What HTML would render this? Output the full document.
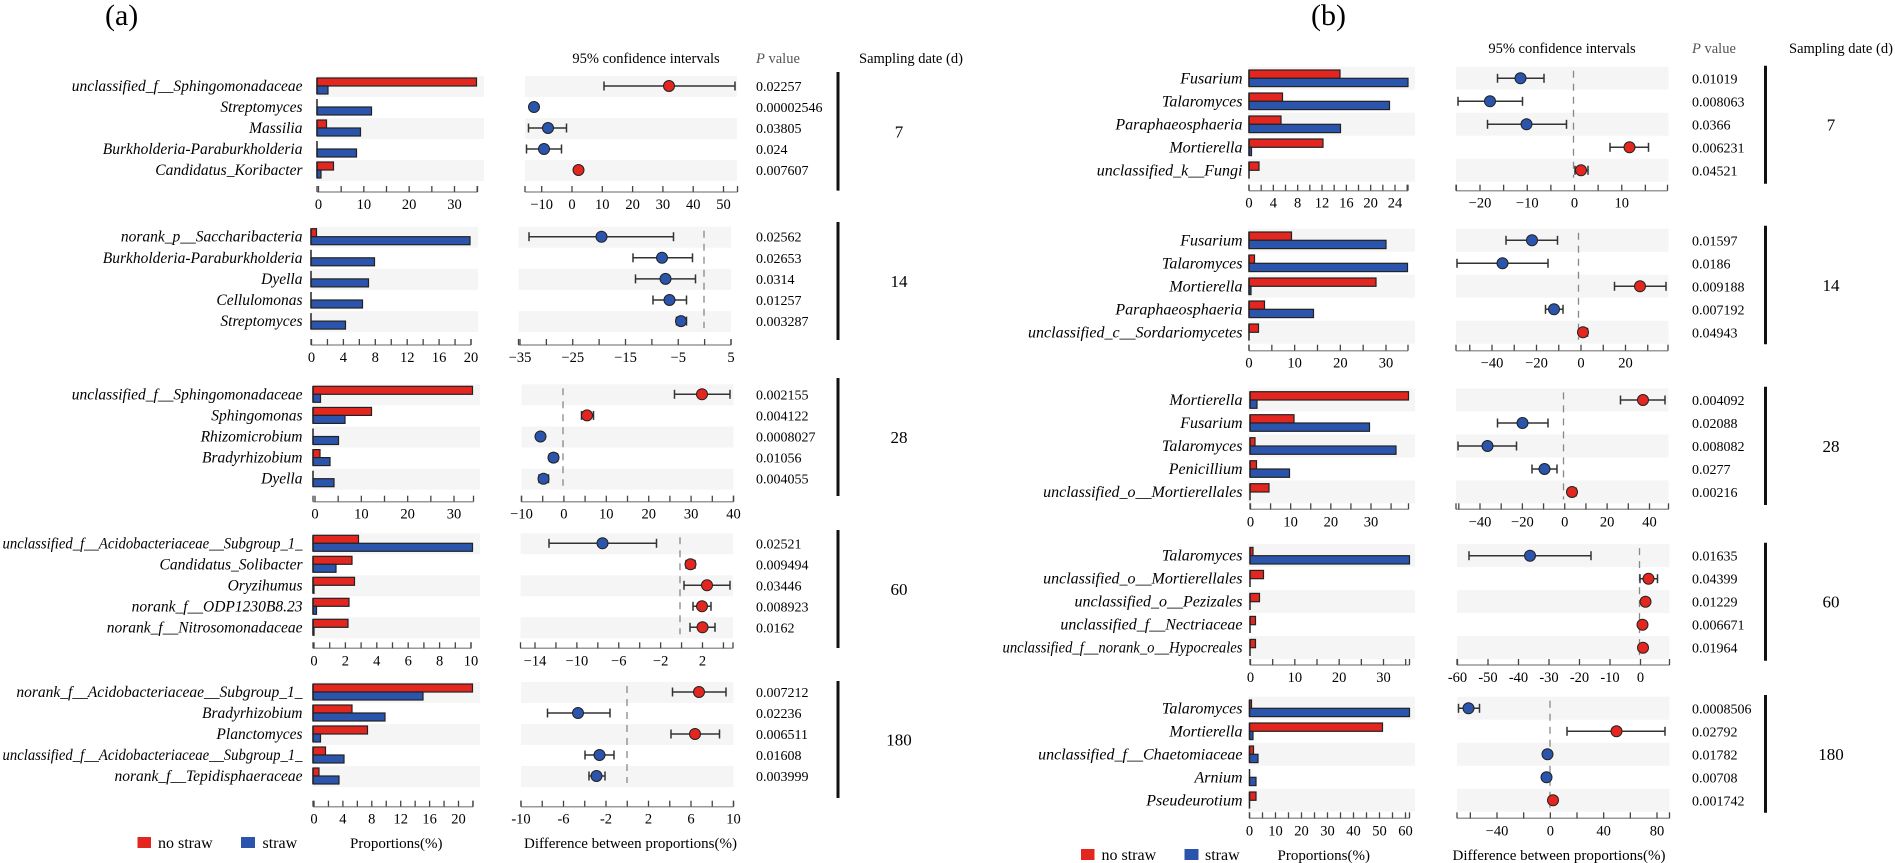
<!DOCTYPE html>
<html><head><meta charset="utf-8"><style>
html,body{margin:0;padding:0;background:#fff;}
svg{display:block;font-family:"Liberation Serif",serif;}
</style></head><body>
<svg id="s" width="1895" height="863" viewBox="0 0 1895 863" xmlns="http://www.w3.org/2000/svg">
<text x="105" y="25" font-size="30">(a)</text>
<text x="1311" y="25" font-size="30">(b)</text>
<text x="646" y="63" font-size="14.5" text-anchor="middle">95% confidence intervals</text>
<text x="756" y="63" font-size="14.5" fill="#555"><tspan font-style="italic">P</tspan> value</text>
<text x="859" y="63" font-size="14.5">Sampling date (d)</text>
<text x="1562" y="53" font-size="14.5" text-anchor="middle">95% confidence intervals</text>
<text x="1692" y="53" font-size="14.5" fill="#555"><tspan font-style="italic">P</tspan> value</text>
<text x="1789" y="53" font-size="14.5">Sampling date (d)</text>
<!-- legends -->
<rect x="137.5" y="837" width="13.5" height="11" fill="#e3261f"/>
<text x="158" y="848" font-size="16">no straw</text>
<rect x="241" y="837" width="14" height="11" fill="#2b54ad"/>
<text x="262.5" y="848" font-size="16">straw</text>
<text x="350" y="848" font-size="15">Proportions(%)</text>
<text x="524" y="848" font-size="15">Difference between proportions(%)</text>
<rect x="1081" y="849" width="13.5" height="11" fill="#e3261f"/>
<text x="1101.5" y="860" font-size="16">no straw</text>
<rect x="1184.5" y="849" width="14" height="11" fill="#2b54ad"/>
<text x="1205" y="860" font-size="16">straw</text>
<text x="1277.5" y="860" font-size="15">Proportions(%)</text>
<text x="1452.5" y="860" font-size="15">Difference between proportions(%)</text>
<g id="g"></g>
</svg>
<script>
var R="#e3261f",B="#2b54ad",BAND="#f5f5f5";
function grp(o){
  var s="",ys=[];for(var i=0;i<5;i++)ys.push(o.y0+o.dy*i);
  var h1=o.band[0],h2=o.band[1];
  // bands
  for(var i=0;i<5;i+=2){
    s+='<rect x="'+o.bb[0]+'" y="'+(ys[i]-h1)+'" width="'+(o.bb[1]-o.bb[0])+'" height="'+(h1+h2)+'" fill="'+BAND+'"/>';
    s+='<rect x="'+o.cb[0]+'" y="'+(ys[i]-h1)+'" width="'+(o.cb[1]-o.cb[0])+'" height="'+(h1+h2)+'" fill="'+BAND+'"/>';
  }
  if(o.dash) s+='<line x1="'+o.dash+'" x2="'+o.dash+'" y1="'+(ys[0]-h1+4)+'" y2="'+(ys[4]+h2-4)+'" stroke="#888" stroke-width="1.3" stroke-dasharray="7,6"/>';
  for(var i=0;i<5;i++){
    var y=ys[i];
    s+='<text x="'+o.lx+'" y="'+(y+5)+'" font-size="'+o.fs+'" font-style="italic" text-anchor="end" class="lab">'+o.labels[i]+'</text>';
    var bh=o.bh;
    if(o.red[i]>o.bl+0.5) s+='<rect x="'+o.bl+'" y="'+(y-bh)+'" width="'+(o.red[i]-o.bl)+'" height="'+bh+'" fill="'+R+'" stroke="#222" stroke-width="1.2"/>';
    if(o.blue[i]>o.bl+0.5) s+='<rect x="'+o.bl+'" y="'+y+'" width="'+(o.blue[i]-o.bl)+'" height="'+bh+'" fill="'+B+'" stroke="#222" stroke-width="1.2"/>';
    s+='<line x1="'+o.bl+'" x2="'+o.bl+'" y1="'+(y-bh)+'" y2="'+(y+bh)+'" stroke="#222" stroke-width="1.5"/>';
    var p=o.pts[i];
    if(p[0]!=null){
      s+='<line x1="'+p[0]+'" x2="'+p[2]+'" y1="'+y+'" y2="'+y+'" stroke="#333" stroke-width="1.5"/>';
      s+='<line x1="'+p[0]+'" x2="'+p[0]+'" y1="'+(y-4.5)+'" y2="'+(y+4.5)+'" stroke="#333" stroke-width="1.5"/>';
      s+='<line x1="'+p[2]+'" x2="'+p[2]+'" y1="'+(y-4.5)+'" y2="'+(y+4.5)+'" stroke="#333" stroke-width="1.5"/>';
    }
    s+='<circle cx="'+p[1]+'" cy="'+y+'" r="5.5" fill="'+(p[3]=="r"?R:B)+'" stroke="#222" stroke-width="1"/>';
    s+='<text x="'+o.px+'" y="'+(y+5)+'" font-size="14">'+o.p[i]+'</text>';
  }
  s+=axis(o.ba,o.ay);s+=axis(o.ca,o.ay);
  s+='<line x1="'+o.sx+'" x2="'+o.sx+'" y1="'+o.sy[0]+'" y2="'+o.sy[1]+'" stroke="#111" stroke-width="3"/>';
  s+='<text x="'+o.snx+'" y="'+((o.sy[0]+o.sy[1])/2+6)+'" font-size="17" text-anchor="middle">'+o.sn+'</text>';
  return s;
}
// axis: [x0,x1, vA,pA, vB,pB, step, labelStep, labelBase, minusChar]
function axis(a,y){
  var x0=a[0],x1=a[1],k=(a[5]-a[3])/(a[4]-a[2]),s="";
  s+='<line x1="'+x0+'" x2="'+x1+'" y1="'+y+'" y2="'+y+'" stroke="#999" stroke-width="1.5"/>';
  s+='<line x1="'+x0+'" x2="'+x0+'" y1="'+(y-6)+'" y2="'+y+'" stroke="#444" stroke-width="1.3"/>';
  s+='<line x1="'+x1+'" x2="'+x1+'" y1="'+(y-6)+'" y2="'+y+'" stroke="#444" stroke-width="1.3"/>';
  var vmin=a[2]+(x0-a[3])/k, vmax=a[2]+(x1-a[3])/k;
  var st=a[6],v=Math.ceil((vmin-1e-6)/st)*st;
  for(;v<=vmax+1e-6;v+=st){
    var x=a[3]+(v-a[2])*k;
    s+='<line x1="'+x+'" x2="'+x+'" y1="'+(y-6)+'" y2="'+y+'" stroke="#444" stroke-width="1.3"/>';
    var r=Math.round(v-a[8]);
    if(((r%a[7])+a[7])%a[7]==0){
      var t=(Math.round(v)<0?(a[9]||"\u2212")+Math.abs(Math.round(v)):""+Math.round(v));
      s+='<text x="'+x+'" y="'+(y+17)+'" font-size="14.5" text-anchor="middle">'+t+'</text>';
    }
  }
  return s;
}
var A={lx:302.5,fs:15.5,bh:8,band:[10,11],px:756,sx:838,snx:899,dy:21};
var Bp={lx:1242.5,fs:16,bh:8.3,band:[11.6,11.4],px:1692,sx:1765.5,snx:1831,dy:23,bl:1249,bb:[1248,1415],cb:[1456,1668.5]};
function m(b,o){var r={};for(var k in b)r[k]=b[k];for(var k in o)r[k]=o[k];return r;}
var G=[
m(A,{y0:86,bl:317,bb:[317,484],cb:[525,737],ay:192,dash:0,
labels:["unclassified_f__Sphingomonadaceae","Streptomyces","Massilia","Burkholderia-Paraburkholderia","Candidatus_Koribacter"],
red:[476.5,317,326.5,317,333.5],blue:[328,371.5,360.5,356.5,321],
pts:[[604,669,735,"r"],[null,534,null,"b"],[528.5,548,566.5,"b"],[526.5,544,561.5,"b"],[577,578.5,580,"r"]],
p:["0.02257","0.00002546","0.03805","0.024","0.007607"],
ba:[317,477.5,0,318.5,30,454.5,5,10,0],ca:[525,737.5,0,572,50,723.5,10,10,0],sy:[72,190.6],sn:"7"}),
m(A,{y0:236.7,dy:21.1,bl:311,bb:[311,478],cb:[518.5,731],ay:345,dash:704,
labels:["norank_p__Saccharibacteria","Burkholderia-Paraburkholderia","Dyella","Cellulomonas","Streptomyces"],
red:[316.5,311,311,311,311],blue:[470,374.5,368.5,362.5,345.5],
pts:[[529,601.5,673.5,"b"],[633,662,692.5,"b"],[635.5,665.5,695.5,"b"],[653,669.5,686.5,"b"],[676.5,681,686.5,"b"]],
p:["0.02562","0.02653","0.0314","0.01257","0.003287"],
ba:[311,471,0,311.5,20,471,2,4,0],ca:[518.5,731,-35,520,5,731,5,10,-35],sy:[222,340],sn:"14"}),
m(A,{y0:394.3,dy:21.1,bl:313,bb:[313,480],cb:[521.5,733.5],ay:501.7,dash:563,
labels:["unclassified_f__Sphingomonadaceae","Sphingomonas","Rhizomicrobium","Bradyrhizobium","Dyella"],
red:[472.5,371.5,313,320,313],blue:[320.5,345,338.5,330,334],
pts:[[674.5,702,730,"r"],[581.5,587,593.5,"r"],[null,540.5,null,"b"],[549.5,553.5,557.5,"b"],[539,543.5,548.5,"b"]],
p:["0.002155","0.004122","0.0008027","0.01056","0.004055"],
ba:[313,473.5,0,315,30,454,5,10,0],ca:[521.5,733.5,-10,521.5,40,733.5,5,10,0],sy:[378,496],sn:"28"}),
m(A,{y0:543.3,bl:313,bb:[313,480],cb:[520.5,733],ay:648.3,dash:680,
labels:["unclassified_f__Acidobacteriaceae__Subgroup_1_","Candidatus_Solibacter","Oryzihumus","norank_f__ODP1230B8.23","norank_f__Nitrosomonadaceae"],
red:[358.5,352,354.5,349,348],blue:[472.5,336,314,316.5,314],
pts:[[549,602.5,656.5,"b"],[686,690.5,695,"r"],[684,707,730,"r"],[693,702,711,"r"],[690,702.5,715,"r"]],
p:["0.02521","0.009494","0.03446","0.008923","0.0162"],
ba:[313,471,0,314,10,471,1,2,0],ca:[520.5,733,-14,535,2,702.5,2,4,-14],sy:[530,648],sn:"60"}),
m(A,{y0:692,bl:313,bb:[313,480],cb:[521,733.5],ay:806.7,dash:627,
labels:["norank_f__Acidobacteriaceae__Subgroup_1_","Bradyrhizobium","Planctomyces","unclassified_f__Acidobacteriaceae__Subgroup_1_","norank_f__Tepidisphaeraceae"],
red:[472.5,352,367.5,325.5,319],blue:[423,385,320.5,344,339],
pts:[[672.5,699,726,"r"],[547.5,578,610,"b"],[671,695,719.5,"r"],[585,599.5,614,"b"],[589,596.5,605,"b"]],
p:["0.007212","0.02236","0.006511","0.01608","0.003999"],
ba:[313,473,0,314,20,458.5,2,4,0],ca:[521,733.5,-10,521,10,733.5,2,4,-10,"-"],sy:[681,798],sn:"180"}),
m(Bp,{y0:78.3,ay:190.7,dash:1573.5,
labels:["Fusarium","Talaromyces","Paraphaeosphaeria","Mortierella","unclassified_k__Fungi"],
red:[1340,1282.5,1281,1323,1259],blue:[1408,1389.5,1340.5,1251.5,1249],
pts:[[1497.5,1520.5,1544,"b"],[1458,1490,1522.5,"b"],[1487.5,1526.5,1566.5,"b"],[1610,1629.5,1648.5,"r"],[1575,1581,1588,"r"]],
p:["0.01019","0.008063","0.0366","0.006231","0.04521"],
ba:[1249,1408,0,1249,24,1395,2,4,0],ca:[1456,1667.5,-20,1480,20,1669,5,10,0],sy:[65.7,183.7],sn:"7"}),
m(Bp,{y0:240.3,ay:350.7,dash:1578.5,
labels:["Fusarium","Talaromyces","Mortierella","Paraphaeosphaeria","unclassified_c__Sordariomycetes"],
red:[1291.5,1254.5,1376,1264.5,1258.5],blue:[1386,1407.5,1251,1313.5,1249],
pts:[[1506,1532,1557.5,"b"],[1457,1502.5,1548,"b"],[1614.5,1640,1666,"r"],[1545.5,1554,1563,"b"],[1579.5,1583,1587.5,"r"]],
p:["0.01597","0.0186","0.009188","0.007192","0.04943"],
ba:[1249,1408,0,1249,30,1386,5,10,0],ca:[1456,1668,-40,1492,40,1670,10,20,0],sy:[225.7,344.3],sn:"14"}),
m(Bp,{y0:400,ay:509.3,dash:1563.5,bl:1250,
labels:["Mortierella","Fusarium","Talaromyces","Penicillium","unclassified_o__Mortierellales"],
red:[1408.5,1294,1255,1256.5,1269],blue:[1257,1369.5,1396,1289.5,1250],
pts:[[1620.5,1643,1665,"r"],[1497.5,1522.5,1548,"b"],[1458,1487.5,1516.5,"b"],[1532,1544.5,1557,"b"],[1568.5,1572,1576,"r"]],
p:["0.004092","0.02088","0.008082","0.0277","0.00216"],
ba:[1250,1408.5,0,1250.5,30,1371,5,10,0],ca:[1456,1668.5,-40,1480,40,1649.5,10,20,0],sy:[386.7,505],sn:"28"}),
m(Bp,{y0:555.7,ay:665,dash:1639.5,bl:1250,cb:[1457,1669.5],
labels:["Talaromyces","unclassified_o__Mortierellales","unclassified_o__Pezizales","unclassified_f__Nectriaceae","unclassified_f__norank_o__Hypocreales"],
red:[1253,1263.5,1259.5,1255.5,1255.5],blue:[1409.5,1250,1250,1250,1250],
pts:[[1469,1530,1591,"b"],[1640,1648.5,1657.5,"r"],[1642,1645.5,1649,"r"],[1640,1642.5,1645,"r"],[1640,1643,1646,"r"]],
p:["0.01635","0.04399","0.01229","0.006671","0.01964"],
ba:[1250,1409.5,0,1250.5,30,1383.5,5,10,0],ca:[1457,1669.5,-60,1457.5,10,1671,10,10,0,"-"],sy:[542.7,660.7],sn:"60"}),
m(Bp,{y0:708.3,ay:818.3,dash:1550,bl:1249.5,cb:[1457,1669.5],
labels:["Talaromyces","Mortierella","unclassified_f__Chaetomiaceae","Arnium","Pseudeurotium"],
red:[1251.5,1382.5,1253.5,1249.5,1256],blue:[1409.5,1253,1258,1256,1249.5],
pts:[[1458.5,1468.5,1479.5,"b"],[1567,1616.5,1665,"r"],[1545,1547.5,1550,"b"],[1544,1546.5,1549,"b"],[1551,1553,1555,"r"]],
p:["0.0008506","0.02792","0.01782","0.00708","0.001742"],
ba:[1249.5,1409.5,0,1249.5,60,1405.5,5,10,0],ca:[1457,1669.5,-40,1497,80,1657,20,40,0],sy:[695,812.7],sn:"180"})
];
var out="";for(var i=0;i<G.length;i++)out+=grp(G[i]);
document.getElementById("g").innerHTML=out;
var labs=document.querySelectorAll("text.lab");
for(var i=0;i<labs.length;i++){var t=labs[i];var w=t.getComputedTextLength();var lx=+t.getAttribute("x");var max=lx<400?300:240;if(w>max){t.setAttribute("textLength",max);t.setAttribute("lengthAdjust","spacingAndGlyphs");}}
</script>
</body></html>
